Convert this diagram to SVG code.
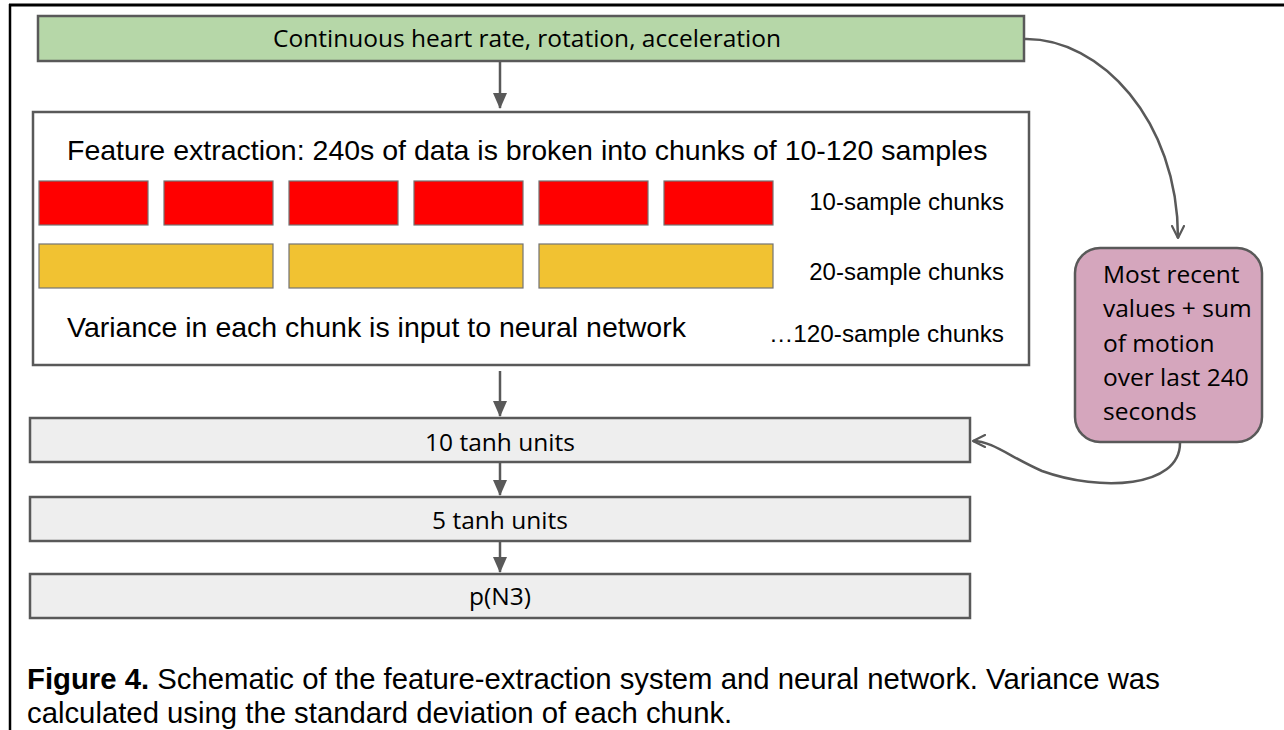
<svg xmlns="http://www.w3.org/2000/svg" width="1284" height="730" viewBox="0 0 1284 730">
  <defs>
    <!-- filled head for the straight flow arrows -->
    <marker id="head-solid" viewBox="0 0 16 14" refX="15" refY="7" markerWidth="16" markerHeight="14" markerUnits="userSpaceOnUse" orient="auto">
      <path d="M0,0 L16,7 L0,14 Z" fill="#595959"/>
    </marker>
    <!-- open chevron head for the curved side connectors -->
    <marker id="head-open" viewBox="0 0 14 14" refX="13" refY="7" markerWidth="14" markerHeight="14" markerUnits="userSpaceOnUse" orient="auto">
      <path d="M1,1 L13,7 L1,13" fill="none" stroke="#595959" stroke-width="2.2" stroke-linecap="round" stroke-linejoin="round"/>
    </marker>
  </defs>
  <style>
    .frame { stroke: #000; fill: none; }
    .box { stroke: #595959; stroke-width: 2.5; }
    .chunk { stroke: #737373; stroke-width: 1.2; }
    .red { fill: #ff0000; }
    .yellow { fill: #f1c232; }
    .layer { fill: #eeeeee; }
    .sans { font-family: "Open Sans", "Noto Sans", sans-serif; font-size: 24.5px; fill: #000; }
    .arial { font-family: "Liberation Sans", Arial, sans-serif; fill: #000; }
    .link { fill: none; stroke: #595959; stroke-width: 2.5; }
  </style>

  <rect width="1284" height="730" fill="#fff"/>

  <!-- table cell border -->
  <line class="frame" x1="9" y1="5" x2="1284" y2="5" stroke-width="3"/>
  <line class="frame" x1="10" y1="4" x2="10" y2="730" stroke-width="2.5"/>

  <g id="input">
    <rect class="box" x="38" y="16" width="986" height="45" fill="#b6d7a8"/>
    <text class="sans" x="527" y="47" text-anchor="middle" font-size="25.3">Continuous heart rate, rotation, acceleration</text>
  </g>

  <g id="feature-extraction">
    <rect class="box" x="33" y="112" width="996" height="253" fill="#fff"/>
    <text class="arial" x="67" y="160" font-size="28.5">Feature extraction: 240s of data is broken into chunks of 10-120 samples</text>
    <g id="chunks-10">
      <rect class="chunk red" x="39" y="181" width="109" height="44"/>
      <rect class="chunk red" x="164" y="181" width="109" height="44"/>
      <rect class="chunk red" x="289" y="181" width="109" height="44"/>
      <rect class="chunk red" x="414" y="181" width="109" height="44"/>
      <rect class="chunk red" x="539" y="181" width="109" height="44"/>
      <rect class="chunk red" x="664" y="181" width="109" height="44"/>
    </g>
    <g id="chunks-20">
      <rect class="chunk yellow" x="39" y="244" width="234" height="44"/>
      <rect class="chunk yellow" x="289" y="244" width="234" height="44"/>
      <rect class="chunk yellow" x="539" y="244" width="234" height="44"/>
    </g>
    <text class="arial" x="1004" y="210" font-size="24" text-anchor="end">10-sample chunks</text>
    <text class="arial" x="1004" y="280" font-size="24" text-anchor="end">20-sample chunks</text>
    <text class="arial" x="1004" y="342" font-size="24.3" text-anchor="end">…120-sample chunks</text>
    <text class="arial" x="67" y="337" font-size="28.5">Variance in each chunk is input to neural network</text>
  </g>

  <g id="recent-values">
    <rect class="box" x="1075" y="248" width="187" height="194" rx="25" ry="25" fill="#d5a6bd"/>
    <text class="sans" x="1103" y="283">Most recent</text>
    <text class="sans" x="1103" y="317.3">values + sum</text>
    <text class="sans" x="1103" y="351.6">of motion</text>
    <text class="sans" x="1103" y="385.9">over last 240</text>
    <text class="sans" x="1103" y="420.2">seconds</text>
  </g>

  <g id="hidden-10">
    <rect class="box layer" x="30" y="418" width="940" height="44"/>
    <text class="sans" x="500" y="451" text-anchor="middle">10 tanh units</text>
  </g>

  <g id="hidden-5">
    <rect class="box layer" x="30" y="497" width="940" height="44"/>
    <text class="sans" x="500" y="529" text-anchor="middle">5 tanh units</text>
  </g>

  <g id="output">
    <rect class="box layer" x="30" y="574" width="940" height="44"/>
    <text class="sans" x="500" y="605" text-anchor="middle">p(N3)</text>
  </g>

  <g id="connectors">
    <line class="link" x1="500" y1="62" x2="500" y2="108" marker-end="url(#head-solid)"/>
    <line class="link" x1="500" y1="371" x2="500" y2="416" marker-end="url(#head-solid)"/>
    <line class="link" x1="500" y1="463" x2="500" y2="495" marker-end="url(#head-solid)"/>
    <line class="link" x1="500" y1="542" x2="500" y2="572" marker-end="url(#head-solid)"/>
    <path class="link" d="M1025,39 C1100,38 1178,120 1178,238" marker-end="url(#head-open)"/>
    <path class="link" d="M1180,443 C1180,488 1100,492 1042,471 C1010,457 992,441 973,441" marker-end="url(#head-open)"/>
  </g>

  <g id="caption">
    <text class="arial" x="27" y="689" font-size="29.3"><tspan font-weight="bold">Figure 4.</tspan> Schematic of the feature-extraction system and neural network. Variance was</text>
    <text class="arial" x="27" y="723" font-size="29.3">calculated using the standard deviation of each chunk.</text>
  </g>
</svg>
